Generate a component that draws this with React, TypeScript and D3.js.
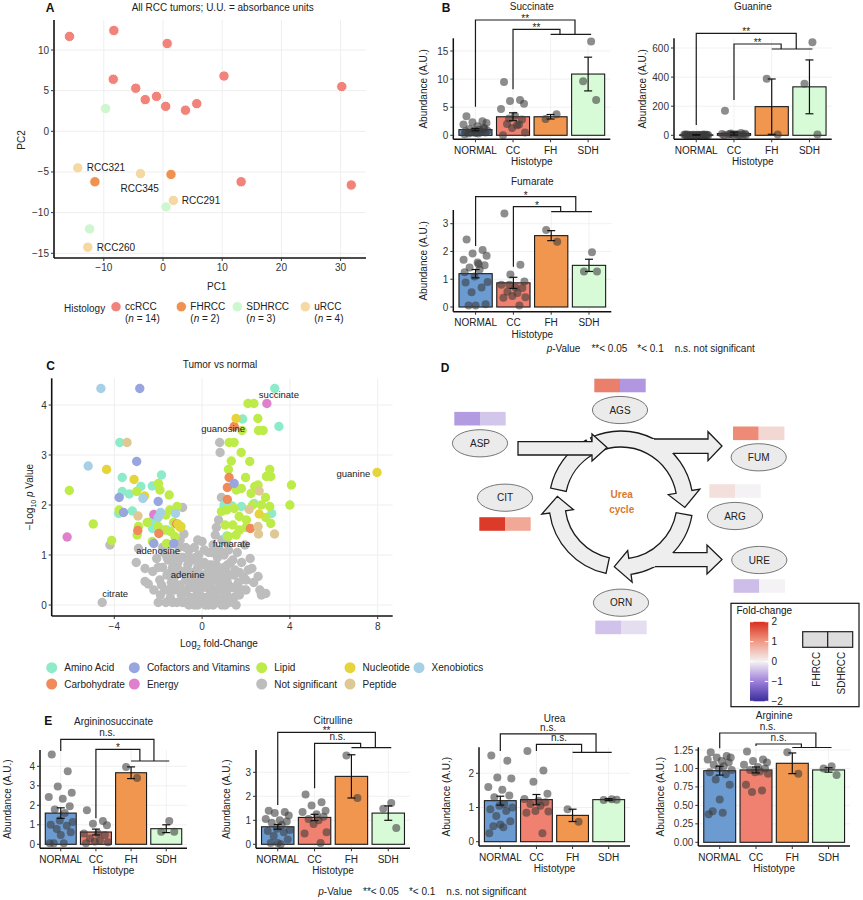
import React from 'react';
import * as d3 from 'd3';

const FONT = '"Liberation Sans", Arial, Helvetica, sans-serif';

// ---------------- Panel A: PCA ----------------
const histologies = ['ccRCC', 'FHRCC', 'SDHRCC', 'uRCC'];
const histologyN = [14, 2, 3, 4];
const histologyColors = ['#F2837A', '#F0924F', '#CFF7CF', '#F5D9A2'];
const ccPC1 = [-15.8, -8.3, 0.7, -8.4, -4.6, -3.0, -1.1, 0.45, 3.8, 5.7, 10.3, 30.2, 13.2, 31.8];
const ccPC2 = [11.67, 12.4, 10.8, 6.4, 5.3, 3.9, 4.3, 3.07, 2.6, 3.4, 6.8, 5.5, -6.2, -6.6];
const fhPC1 = [-11.5, 1.35];
const fhPC2 = [-6.2, -5.3];
const sdhPC1 = [-9.7, 0.5, -12.4];
const sdhPC2 = [2.8, -9.3, -12.0];
const uPC1 = [-14.4, -3.8, 1.75, -12.7];
const uPC2 = [-4.5, -5.2, -8.5, -14.25];
const uLabels = ['RCC321', 'RCC345', 'RCC291', 'RCC260'];
const uLabelNudge = [[9, 0], [-20, 15], [8.5, 0], [9, 0]];
const pcaXTicks = [-10, 0, 10, 20, 30];
const pcaYTicks = [-15, -10, -5, 0, 5, 10];

// ---------------- Bar panels (B, E) ----------------
const CATS = ['NORMAL', 'CC', 'FH', 'SDH'];
const BAR_COLORS = ['#6C9BD2', '#F0806F', '#F0964F', '#D7FAD7'];
const JIT = [-9, 7, -3, 11, -12, 2, 9, -6, 4, -1, 12, -10, 6, -4, 10, 0, -7, 3, -11, 8];
const JIT_FH = [-5, 6];
const JIT_SDH = [3, -5, 8];

const succMeans = [1.0, 3.3, 3.3, 10.9];
const succErrs = [0.2, 0.7, 0.4, 3.0];
const succNormal = [3.4, 2.5, 2.3, 2.2, 1.9, 1.6, 1.3, 1.1, 1.0, 0.9, 0.8, 0.7, 0.6, 0.5, 0.5, 0.4, 0.3, 0.3, 0.2, 1.2];
const succCC = [9.5, 6.3, 6.1, 5.6, 4.7, 3.5, 2.8, 2.0, 1.8, 1.3, 0.5, 0.0, 1.9, 3.0];
const succFH = [2.9, 3.75];
const succSDH = [16.7, 9.6, 6.3];

const guanMeans = [3, 12, 197, 333];
const guanErrs = [2, 10, 190, 185];
const guanNormal = [6, 5, 4, 4, 3, 3, 3, 2, 2, 2, 1, 1, 1, 1, 0, 0, 0, 0, 5, 2];
const guanCC = [168, 15, 12, 10, 9, 8, 6, 5, 4, 3, 2, 1, 0, 7];
const guanFH = [388, 5];
const guanSDH = [640, 355, 5];

const fumMeans = [1.2, 0.87, 2.57, 1.5];
const fumErrs = [0.15, 0.2, 0.18, 0.22];
const fumNormal = [2.43, 2.05, 1.93, 1.85, 1.7, 1.6, 1.5, 1.42, 1.35, 1.1, 0.9, 0.88, 0.7, 0.53, 0.1, 0.05, 0.05, 1.55, 1.25];
const fumCC = [3.37, 1.52, 1.17, 0.92, 0.8, 0.7, 0.68, 0.55, 0.5, 0.4, 0.35, 0.33, 0.05, 0.8];
const fumFH = [2.77, 2.35];
const fumSDH = [1.97, 1.28, 1.28];

const asMeans = [1.6, 0.63, 3.67, 0.8];
const asErrs = [0.27, 0.15, 0.3, 0.2];
const asNormal = [4.6, 3.75, 2.97, 2.65, 2.42, 2.33, 1.95, 1.78, 1.6, 1.22, 1.15, 1.0, 0.95, 0.78, 0.62, 0.48, 0.05, 0.05, 0.05];
const asCC = [1.75, 1.2, 1.05, 0.98, 0.55, 0.55, 0.48, 0.3, 0.2, 0.15, 0.1, 0.05];
const asFH = [3.97, 3.4];
const asSDH = [1.2, 0.65, 0.65];

const citMeans = [0.73, 1.12, 2.83, 1.3];
const citErrs = [0.1, 0.13, 0.9, 0.3];
const citNormal = [1.4, 1.35, 1.3, 1.2, 1.05, 1.0, 0.95, 0.9, 0.8, 0.65, 0.6, 0.55, 0.5, 0.35, 0.2, 0.05, 0.05, 0.0];
const citCC = [2.08, 1.75, 1.62, 1.4, 1.35, 1.25, 1.15, 1.05, 1.0, 0.85, 0.5, 0.45, 0.05];
const citFH = [3.7, 1.93];
const citSDH = [1.72, 1.48, 0.68];

const ureaMeans = [1.2, 1.23, 0.77, 1.23];
const ureaErrs = [0.13, 0.15, 0.18, 0.03];
const ureaNormal = [2.52, 2.37, 1.88, 1.85, 1.6, 1.52, 1.35, 1.3, 1.1, 1.05, 1.0, 0.95, 0.9, 0.75, 0.6, 0.5, 0.45, 0.42, 0.25];
const ureaCC = [2.65, 2.08, 1.75, 1.4, 1.25, 1.2, 1.15, 1.1, 1.05, 0.9, 0.88, 0.85, 0.25];
const ureaFH = [0.95, 0.58];
const ureaSDH = [1.24, 1.22, 1.23];

const argMeans = [0.97, 0.98, 1.07, 0.98];
const argErrs = [0.06, 0.04, 0.14, 0.03];
const argNormal = [1.22, 1.17, 1.15, 1.15, 1.12, 1.1, 1.08, 1.05, 1.03, 1.0, 0.98, 0.95, 0.92, 0.85, 0.78, 0.58, 0.42, 0.4, 0.38];
const argCC = [1.23, 1.12, 1.1, 1.08, 1.05, 1.02, 1.0, 0.98, 0.96, 0.95, 0.93, 0.78, 0.7, 0.68];
const argFH = [1.22, 0.93];
const argSDH = [1.03, 1.0, 0.91];

// ---------------- Panel C: volcano ----------------
const volcanoCategories = ['Amino Acid', 'Carbohydrate', 'Cofactors and Vitamins', 'Energy', 'Lipid', 'Not significant', 'Nucleotide', 'Peptide', 'Xenobiotics'];
const volcanoColors = ['#8EEBC9', '#F08A5B', '#98A5DE', '#E080CC', '#BDEB48', '#BDBDBD', '#E6D43B', '#E0C895', '#A7D0E6'];
const notSignificant = [[-4.55, 0.05], [-4.2, 1.2], [-3.0, 0.85], [-2.9, 1.13], [-2.6, 0.73], [-2.6, 0.47], [-2.45, 0.42], [-2.25, 0.67], [-2.07, 0.93], [-1.93, 0.5], [-1.8, 0.75], [-1.75, 1.05], [-1.7, 0.3], [-1.6, 0.6], [-1.55, 0.9], [-1.5, 1.2], [-1.45, 0.15], [-1.4, 0.45], [-1.35, 0.75], [-1.3, 1.0], [-1.25, 0.3], [-1.2, 0.6], [-1.15, 0.05], [-1.1, 0.85], [-1.05, 1.15], [-1.0, 0.4], [-0.95, 0.2], [-0.9, 0.65], [-0.89, 1.95], [-0.83, 1.42], [-0.85, 0.95], [-0.8, 0.05], [-0.75, 0.5], [-0.7, 0.3], [-0.65, 0.8], [-0.6, 1.1], [-0.55, 0.15], [-0.5, 0.6], [-0.45, 0.35], [-0.4, 0.9], [-0.35, 0.0], [-0.3, 0.5], [-0.25, 0.2], [-0.2, 0.75], [-0.15, 1.0], [-0.1, 0.05], [-0.05, 0.4], [0, 1.27], [0, 0.6], [0.05, 0.15], [0.1, 0.85], [0.15, 0.0], [0.2, 0.35], [0.25, 0.65], [0.3, 1.05], [0.35, 0.1], [0.4, 0.5], [0.45, 0.8], [0.5, 0.0], [0.5, 1.2], [0.55, 0.3], [0.6, 0.6], [0.65, 1.55], [0.7, 0.05], [0.7, 0.95], [0.75, 1.7], [0.8, 3.25], [0.82, 3.05], [0.88, 2.15], [0.8, 0.4], [0.85, 0.7], [0.9, 1.3], [0.95, 0.15], [1.0, 1.0], [1.05, 0.5], [1.1, 0.25], [1.15, 0.8], [1.2, 1.1], [1.25, 0.05], [1.3, 0.6], [1.35, 0.35], [1.4, 0.9], [1.45, 0.15], [1.5, 0.7], [1.6, 1.05], [1.65, 0.45], [1.7, 0.2], [1.8, 0.85], [1.9, 0.55], [1.95, 1.2], [2.0, 0.3], [2.1, 0.7], [2.19, 0.93], [2.27, 0.73], [2.35, 0.45], [2.55, 0.57], [2.63, 0.3], [2.7, 0.2], [2.9, 0.23], [-0.6, 0.0], [0.3, 0.0], [0.9, 0.0], [-1.9, 0.2], [1.1, 1.25], [0.6, 1.4], [-0.2, 1.3], [-1.0, 1.3],
  [-2.2, 0.3], [-2.0, 0.05], [-1.85, 0.4], [-1.65, 0.05], [-1.55, 0.3], [-1.35, 0.05], [-1.3, 0.5], [-1.15, 0.35], [-1.05, 0.7], [-0.95, 0.95], [-0.9, 0.05], [-0.8, 0.25], [-0.75, 1.15], [-0.7, 0.7], [-0.6, 0.45], [-0.55, 0.95], [-0.45, 0.1], [-0.4, 0.65], [-0.35, 1.15], [-0.25, 0.4], [-0.2, 0.0], [-0.1, 0.85], [-0.1, 0.3], [0.0, 0.1], [0.05, 0.45], [0.1, 1.1], [0.2, 0.6], [0.2, 0.15], [0.3, 0.8], [0.4, 0.25], [0.45, 1.05], [0.55, 0.5], [0.6, 0.15], [0.65, 0.8], [0.75, 0.3], [0.8, 1.1], [0.85, 0.55], [0.95, 0.35], [1.0, 0.75], [1.05, 0.0], [1.15, 0.45], [1.2, 0.15], [1.3, 0.85], [1.4, 0.35], [1.45, 0.6], [1.55, 0.0], [1.6, 0.3], [1.7, 0.65], [1.85, 0.3], [2.0, 0.5], [-1.45, 0.65], [-1.6, 0.95], [-1.2, 0.85], [-0.3, 0.95], [0.35, 0.4], [1.1, 0.65], [-2.0, 0.75], [-1.8, 1.15], [0.0, 0.8], [0.5, 0.7]];
const aminoAcid = [[3.31, 4.33], [3.5, 3.57], [-3.75, 3.25], [-3.64, 2.55], [-3.64, 2.27], [-3.32, 2.22], [-2.79, 2.37], [-2.27, 2.38], [-1.85, 2.6], [-3.18, 1.88], [-3.8, 1.83], [-2.31, 1.67], [-2.26, 1.53], [1.85, 3.72], [1.79, 1.97], [2.37, 2.03], [3.17, 1.83], [1.12, 1.38], [1.37, 1.98], [-2.1, 1.7], [-1.6, 1.5], [1.0, 2.0]];
const carbohydrate = [[1.46, 3.57], [1.23, 2.55], [1.15, 2.35], [1.15, 2.11], [2.2, 1.53], [-2.93, 1.49], [-1.97, 1.43], [-1.16, 1.62]];
const cofactors = [[-2.84, 4.33], [-2.98, 2.87], [-3.78, 2.15], [-3.58, 1.85], [-2.0, 2.07], [-2.2, 1.23], [-1.29, 1.23], [1.46, 2.43]];
const energy = [[-6.15, 1.36], [2.95, 4.03], [-2.2, 1.81]];
const lipid = [[-6.05, 2.29], [-4.96, 1.62], [-4.12, 1.29], [2.09, 4.03], [2.36, 4.03], [2.54, 3.73], [1.82, 3.49], [2.57, 3.49], [2.78, 3.49], [1.23, 3.25], [1.46, 3.25], [1.78, 3.05], [1.33, 2.88], [2.17, 2.87], [1.2, 2.71], [3.08, 2.71], [2.93, 2.57], [3.13, 2.57], [1.98, 2.55], [1.79, 2.33], [1.56, 2.3], [2.4, 2.37], [2.55, 2.4], [2.23, 2.23], [4.07, 2.4], [4.0, 2.0], [3.08, 1.97], [2.89, 2.15], [1.12, 1.9], [1.69, 1.77], [2.02, 1.7], [1.7, 1.5], [2.0, 1.55], [1.2, 1.37], [3.13, 1.63], [1.46, 1.93], [0.88, 1.87], [1.05, 1.6], [1.4, 1.6], [1.55, 1.4], [2.3, 2.0], [2.7, 2.0], [2.9, 1.75], [-3.78, 1.9], [-2.96, 1.4], [-2.9, 1.57], [-2.98, 2.27], [-1.99, 2.43], [-1.92, 2.3], [-1.47, 1.9], [-1.65, 1.8], [-1.14, 1.97], [-1.44, 1.47], [-1.24, 1.37], [-1.62, 1.23], [-0.96, 1.57], [-2.27, 1.27], [-2.0, 1.57], [-1.3, 1.65], [-1.7, 1.5], [-2.5, 1.65], [-1.5, 2.2]];
const nucleotide = [[1.55, 3.73], [-4.35, 2.71], [-3.1, 2.51], [-2.62, 2.18], [-1.1, 1.62], [2.6, 1.82], [7.97, 2.65], [-1.0, 1.55]];
const peptide = [[-3.42, 3.25], [2.6, 2.28], [-2.92, 1.78], [2.14, 1.91], [2.55, 1.57], [2.57, 1.42], [3.3, 1.42]];
const xenobiotics = [[-4.61, 4.33], [-5.19, 2.78], [-2.7, 2.13], [-1.89, 1.85], [-1.21, 1.83], [-2.0, 1.75]];
const volcanoLabels = ['succinate', 'guanosine', 'fumarate', 'adenosine', 'adenine', 'citrate', 'guanine'];
const volcanoLabelFc = [3.5, 0.96, 1.34, -2.0, -0.66, -3.96, 7.66];
const volcanoLabelP = [4.2, 3.52, 1.23, 1.09, 0.61, 0.23, 2.63];
const volcanoXTicks = [-4, 0, 4, 8];
const volcanoYTicks = [0, 1, 2, 3, 4];

// ---------------- Panel D: urea cycle ----------------
const metabolites = ['AGS', 'ASP', 'FUM', 'ARG', 'CIT', 'URE', 'ORN'];
const fcFH = [1.25, -0.76, 1.14, 0.21, 1.89, -0.46, -0.42];
const fcSDH = [-0.79, -0.38, 0.31, 0.0, 0.84, 0.0, -0.18];
const legendTicks = [2, 1, 0, -1, -2];

const fcColor = d3.scaleLinear<string>()
  .domain([-2, -1, 0, 1, 2])
  .range(['#3A2D9C', '#9E7FDB', '#F4F2F4', '#F09A85', '#D92F1E']);

// ----------------- Bar panel -----------------
function BarPanel(props: any) {
  const { title, titleY, x0, W, y0, yRef, yRefPix, top, bottom, ticks, fmt, means, errs, pts, br, marks, ylabX } = props;
  const x = d3.scaleBand().domain(CATS).range([x0, x0 + W]).paddingInner(0.12).paddingOuter(0.15);
  const y = d3.scaleLinear().domain([0, yRef]).range([y0, yRefPix]);
  const bw = x.bandwidth();
  const cx = (c: string) => (x(c) as number) + bw / 2;
  const step = x.step();
  const fh = cx('FH');
  const innerEnd = fh + 0.25 * step;
  const outerEnd = fh + 0.65 * step;
  const jits = [JIT, JIT, JIT_FH, JIT_SDH];
  const lbl = (s: string, ly: number) => (s.startsWith('*') ? ly + 1.8 : ly - 3);
  return (
    <g>
      {ticks.map((t: number) => (
        <line key={'gy' + t} x1={x0} x2={x0 + W} y1={y(t)} y2={y(t)} stroke="#EDEDED" strokeWidth={0.8} />
      ))}
      {CATS.map((c) => (
        <line key={'gx' + c} x1={cx(c)} x2={cx(c)} y1={top} y2={bottom} stroke="#EDEDED" strokeWidth={0.8} />
      ))}
      {CATS.map((c, i) => (
        <rect key={'b' + c} x={x(c)} y={y(means[i])} width={bw} height={y(0) - y(means[i])}
          fill={BAR_COLORS[i]} stroke="#1a1a1a" strokeWidth={1.1} />
      ))}
      {CATS.map((c, i) => pts[i].map((v: number, j: number) => (
        <circle key={'p' + c + j} cx={cx(c) + jits[i][j % jits[i].length]} cy={y(v)} r={4}
          fill="#3a3a3a" fillOpacity={0.58} />
      )))}
      {CATS.map((c, i) => {
        const a = y(means[i] + errs[i]);
        const b = y(Math.max(0, means[i] - errs[i]));
        return (
          <g key={'e' + c} stroke="#111" strokeWidth={1.2}>
            <line x1={cx(c)} x2={cx(c)} y1={a} y2={b} />
            <line x1={cx(c) - 4} x2={cx(c) + 4} y1={a} y2={a} />
            <line x1={cx(c) - 4} x2={cx(c) + 4} y1={b} y2={b} />
          </g>
        );
      })}
      <line x1={x0} x2={x0} y1={top} y2={bottom} stroke="#111" strokeWidth={1.5} />
      <line x1={x0} x2={x0 + W} y1={bottom} y2={bottom} stroke="#111" strokeWidth={1.5} />
      {ticks.map((t: number) => (
        <g key={'yt' + t}>
          <line x1={x0 - 3} x2={x0} y1={y(t)} y2={y(t)} stroke="#333" />
          <text x={x0 - 5} y={y(t) + 3.5} fontSize={10} textAnchor="end" fill="#333">{fmt(t)}</text>
        </g>
      ))}
      {CATS.map((c) => (
        <g key={'xt' + c}>
          <line x1={cx(c)} x2={cx(c)} y1={bottom} y2={bottom + 3} stroke="#333" />
          <text x={cx(c)} y={bottom + 14.5} fontSize={10} textAnchor="middle" fill="#222">{c}</text>
        </g>
      ))}
      <text x={x0 + W / 2} y={bottom + 26} fontSize={10} textAnchor="middle" fill="#222">Histotype</text>
      <text transform={`translate(${ylabX + 3.5},${(top + bottom) / 2}) rotate(-90)`} fontSize={10} textAnchor="middle" fill="#222">Abundance (A.U.)</text>
      <text x={x0 + W / 2} y={titleY} fontSize={10} textAnchor="middle" fill="#222">{title}</text>
      <g stroke="#1a1a1a" strokeWidth={1.2} fill="none">
        <path d={`M${cx('NORMAL')},${br[0]} V${br[1]} H${outerEnd} V${br[4]}`} />
        <path d={`M${cx('CC')},${br[2]} V${br[3]} H${innerEnd} V${br[4]}`} />
        <path d={`M${fh},${br[4]} H${cx('SDH') + 3}`} />
      </g>
      <text x={(cx('NORMAL') + outerEnd) / 2} y={lbl(marks[0], br[1])} fontSize={10} textAnchor="middle" fill="#222">{marks[0]}</text>
      <text x={(cx('CC') + innerEnd) / 2} y={lbl(marks[1], br[3])} fontSize={10} textAnchor="middle" fill="#222">{marks[1]}</text>
    </g>
  );
}

function PValueLegend({ x, y }: any) {
  return (
    <text x={x} y={y} fontSize={10} fill="#222">
      <tspan fontStyle="italic">p</tspan>
      <tspan>-Value</tspan>
      <tspan dx={11}>**&lt; 0.05</tspan>
      <tspan dx={10}>*&lt; 0.1</tspan>
      <tspan dx={11}>n.s. not significant</tspan>
    </text>
  );
}

function PanelA() {
  const x = d3.scaleLinear().domain([-10, 30]).range([103.8, 340.6]);
  const y = d3.scaleLinear().domain([-15, 10]).range([253.3, 50]);
  const L = 54, R = 366, T = 20, B = 258;
  const groups = [
    { xs: ccPC1, ys: ccPC2, c: histologyColors[0] },
    { xs: fhPC1, ys: fhPC2, c: histologyColors[1] },
    { xs: sdhPC1, ys: sdhPC2, c: histologyColors[2] },
    { xs: uPC1, ys: uPC2, c: histologyColors[3] },
  ];
  const legX = [116, 181.3, 237.3, 305.3];
  return (
    <g>
      {pcaXTicks.map((t) => <line key={'gx' + t} x1={x(t)} x2={x(t)} y1={T} y2={B} stroke="#EEEEEE" />)}
      {pcaYTicks.map((t) => <line key={'gy' + t} x1={L} x2={R} y1={y(t)} y2={y(t)} stroke="#EEEEEE" />)}
      {groups.map((g, gi) => g.xs.map((v, i) => (
        <circle key={gi + '-' + i} cx={x(v)} cy={y(g.ys[i])} r={5.2} fill={g.c} stroke="#fff" strokeWidth={1} />
      )))}
      {uLabels.map((l, i) => (
        <text key={l} x={x(uPC1[i]) + uLabelNudge[i][0]} y={y(uPC2[i]) + uLabelNudge[i][1] + 3.5} fontSize={10} fill="#222">{l}</text>
      ))}
      <line x1={L} x2={L} y1={T} y2={B} stroke="#111" strokeWidth={1.6} />
      <line x1={L} x2={R} y1={B} y2={B} stroke="#111" strokeWidth={1.6} />
      {pcaYTicks.map((t) => (
        <g key={'yt' + t}>
          <line x1={L - 3} x2={L} y1={y(t)} y2={y(t)} stroke="#333" />
          <text x={L - 5} y={y(t) + 3.5} fontSize={10} textAnchor="end" fill="#333">{t < 0 ? '\u2212' + Math.abs(t) : t}</text>
        </g>
      ))}
      {pcaXTicks.map((t) => (
        <g key={'xt' + t}>
          <line x1={x(t)} x2={x(t)} y1={B} y2={B + 3} stroke="#333" />
          <text x={x(t)} y={B + 13} fontSize={10} textAnchor="middle" fill="#333">{t < 0 ? '\u2212' + Math.abs(t) : t}</text>
        </g>
      ))}
      <text x={216.7} y={289.5} fontSize={10} textAnchor="middle" fill="#222">PC1</text>
      <text transform="translate(25,140) rotate(-90)" fontSize={10} textAnchor="middle" fill="#222">PC2</text>
      <text x={222.7} y={11} fontSize={10} textAnchor="middle" fill="#222">All RCC tumors; U.U. = absorbance units</text>
      <text x={50} y={12} fontSize={12} fontWeight="bold" textAnchor="middle" fill="#111">A</text>
      <text x={64} y={311.5} fontSize={10} fill="#222">Histology</text>
      {histologies.map((h, i) => (
        <g key={h}>
          <circle cx={legX[i]} cy={306.7} r={5.2} fill={histologyColors[i]} stroke="#fff" strokeWidth={1} />
          <text x={legX[i] + 9} y={310.2} fontSize={10} fill="#222">{h}</text>
          <text x={legX[i] + 9} y={322} fontSize={10} fill="#222">(<tspan fontStyle="italic">n</tspan> = {histologyN[i]})</text>
        </g>
      ))}
    </g>
  );
}

function PanelB() {
  return (
    <g>
      <text x={446} y={12} fontSize={12} fontWeight="bold" textAnchor="middle" fill="#111">B</text>
      <BarPanel title="Succinate" titleY={9.5} x0={453.3} W={157} y0={135.3} yRef={15} yRefPix={51} top={38.3} bottom={139.3}
        ticks={[0, 5, 10, 15]} fmt={(t: number) => String(t)} means={succMeans} errs={succErrs}
        pts={[succNormal, succCC, succFH, succSDH]} br={[106.7, 20, 89.3, 29.3, 34.3]} marks={['**', '**']} ylabX={423.3} />
      <BarPanel title="Guanine" titleY={10} x0={674} W={157.7} y0={135.3} yRef={600} yRefPix={48} top={38.3} bottom={139.3}
        ticks={[0, 200, 400, 600]} fmt={(t: number) => String(t)} means={guanMeans} errs={guanErrs}
        pts={[guanNormal, guanCC, guanFH, guanSDH]} br={[125, 33.3, 100, 44, 49]} marks={['**', '**']} ylabX={642.7} />
      <BarPanel title="Fumarate" titleY={184.5} x0={453.3} W={158} y0={307} yRef={3} yRefPix={223.7} top={210} bottom={311.7}
        ticks={[0, 1, 2, 3]} fmt={(t: number) => String(t)} means={fumMeans} errs={fumErrs}
        pts={[fumNormal, fumCC, fumFH, fumSDH]} br={[246, 196.7, 266.7, 206.7, 211.7]} marks={['*', '*']} ylabX={423.3} />
      <PValueLegend x={546.7} y={352} />
    </g>
  );
}

function PanelC() {
  const x = d3.scaleLinear().domain([-4, 8]).range([114.3, 377.7]);
  const y = d3.scaleLinear().domain([0, 4]).range([605, 405]);
  const L = 51.7, R = 392.7, T = 378.3, B = 616;
  const series = [
    { d: notSignificant, c: volcanoColors[5] },
    { d: aminoAcid, c: volcanoColors[0] },
    { d: lipid, c: volcanoColors[4] },
    { d: carbohydrate, c: volcanoColors[1] },
    { d: cofactors, c: volcanoColors[2] },
    { d: energy, c: volcanoColors[3] },
    { d: nucleotide, c: volcanoColors[6] },
    { d: peptide, c: volcanoColors[7] },
    { d: xenobiotics, c: volcanoColors[8] },
  ];
  const legendOrder = [
    ['Amino Acid', 51.7, 667.7], ['Cofactors and Vitamins', 134.3, 667.7], ['Lipid', 261.7, 667.7], ['Nucleotide', 350, 667.7], ['Xenobiotics', 419, 667.7],
    ['Carbohydrate', 51.7, 684], ['Energy', 134.3, 684], ['Not significant', 261.7, 684], ['Peptide', 350, 684],
  ] as [string, number, number][];
  return (
    <g>
      {volcanoXTicks.map((t) => <line key={'gx' + t} x1={x(t)} x2={x(t)} y1={T} y2={B} stroke="#EEEEEE" />)}
      {volcanoYTicks.map((t) => <line key={'gy' + t} x1={L} x2={R} y1={y(t)} y2={y(t)} stroke="#EEEEEE" />)}
      {series.map((s, si) => s.d.map((p, i) => (
        <circle key={si + '-' + i} cx={x(p[0])} cy={y(p[1])} r={4.7} fill={s.c} />
      )))}
      {volcanoLabels.map((l, i) => (
        <text key={l} x={x(volcanoLabelFc[i])} y={y(volcanoLabelP[i]) + 3.3} fontSize={9.5}
          textAnchor={l === 'guanine' ? 'end' : 'middle'} fill="#222">{l}</text>
      ))}
      <line x1={L} x2={L} y1={T} y2={B} stroke="#111" strokeWidth={1.6} />
      <line x1={L} x2={R} y1={B} y2={B} stroke="#111" strokeWidth={1.6} />
      {volcanoYTicks.map((t) => (
        <g key={'yt' + t}>
          <line x1={L - 3} x2={L} y1={y(t)} y2={y(t)} stroke="#333" />
          <text x={L - 5} y={y(t) + 3.5} fontSize={10} textAnchor="end" fill="#333">{t}</text>
        </g>
      ))}
      {volcanoXTicks.map((t) => (
        <g key={'xt' + t}>
          <line x1={x(t)} x2={x(t)} y1={B} y2={B + 3} stroke="#333" />
          <text x={x(t)} y={B + 13.5} fontSize={10} textAnchor="middle" fill="#333">{t < 0 ? '\u2212' + Math.abs(t) : t}</text>
        </g>
      ))}
      <text x={219} y={647} fontSize={10} textAnchor="middle" fill="#222">Log<tspan fontSize={7} dy={3}>2</tspan><tspan dy={-3}> fold-Change</tspan></text>
      <text transform="translate(33,497) rotate(-90)" fontSize={10} textAnchor="middle" fill="#222">{'\u2212'}Log<tspan fontSize={7} dy={3}>10</tspan><tspan dy={-3}> </tspan><tspan fontStyle="italic">p</tspan> Value</text>
      <text x={220} y={368} fontSize={10} textAnchor="middle" fill="#222">Tumor vs normal</text>
      <text x={50.7} y={370} fontSize={12} fontWeight="bold" textAnchor="middle" fill="#111">C</text>
      {legendOrder.map(([name, lx, ly]) => (
        <g key={name}>
          <circle cx={lx} cy={ly} r={5.5} fill={volcanoColors[volcanoCategories.indexOf(name)]} />
          <text x={lx + 12.6} y={ly + 3.6} fontSize={10} fill="#222">{name}</text>
        </g>
      ))}
    </g>
  );
}

function arcArrow(cx: number, cy: number, R: number, r: number, a0: number, a1: number, head: number) {
  const P = (a: number, rad: number) => {
    const t = (a * Math.PI) / 180;
    return [cx + rad * Math.sin(t), cy - rad * Math.cos(t)];
  };
  const o0 = P(a0, R), o1 = P(a1, R), i1 = P(a1, r), i0 = P(a0, r);
  const large = a1 - a0 > 180 ? 1 : 0;
  let d = `M${o0[0]},${o0[1]} A${R},${R} 0 ${large} 1 ${o1[0]},${o1[1]}`;
  if (head > 0) {
    const h1 = P(a1, R + 8), tip = P(a1 + head, (R + r) / 2), h2 = P(a1, r - 8);
    d += ` L${h1[0]},${h1[1]} L${tip[0]},${tip[1]} L${h2[0]},${h2[1]}`;
  }
  d += ` L${i1[0]},${i1[1]} A${r},${r} 0 ${large} 0 ${i0[0]},${i0[1]} Z`;
  return d;
}

function PanelD() {
  const cx = 621, cy = 503, R = 72, r = 56;
  const nodeX = [620, 480, 758.7, 735, 505, 759.3, 621];
  const nodeY = [410, 443.3, 457.3, 516, 497.7, 560, 602.7];
  const tileDy = [-24.5, -24.6, -24, -25, 26.3, 26, 24.7];
  const tw = 25.7, th = 13.6;
  const legY = d3.scaleLinear().domain([-2, 2]).range([701.3, 621.8]);
  return (
    <g>
      <defs>
        <linearGradient id="fcgrad" x1="0" y1="0" x2="0" y2="1">
          {legendTicks.map((t, i) => (
            <stop key={t} offset={`${i * 25}%`} stopColor={fcColor(t)} />
          ))}
        </linearGradient>
      </defs>
      <text x={445} y={371.5} fontSize={12} fontWeight="bold" textAnchor="middle" fill="#111">D</text>
      <g fill="#EEEEEE" stroke="#1a1a1a" strokeWidth={1.3} strokeLinejoin="miter">
        <path d={arcArrow(cx, cy, R, r, -25, 80, 14)} />
        <path d={arcArrow(cx, cy, R, r, 100, 172, 14)} />
        <path d={arcArrow(cx, cy, R, r, 192, 262, 14)} />
        <path d={arcArrow(cx, cy, R, r, 282, 331, 0)} />
      </g>
      <path d="M650,439 H708 V431.7 L722,446 L708,460.7 V453.3 H650 Z" fill="#EEEEEE" />
      <path d="M654,439 H708 V431.7 L722,446 L708,460.7 V453.3 H673" fill="none" stroke="#1a1a1a" strokeWidth={1.3} />
      <path d="M650,552.7 H707 V545 L722,559.5 L707,574 V566.7 H650 Z" fill="#EEEEEE" />
      <path d="M673,552.7 H707 V545 L722,559.5 L707,574 V566.7 H655" fill="none" stroke="#1a1a1a" strokeWidth={1.3} />
      <path d="M518,441.7 H592 V434 L607,447.5 L592,461 V455 H518 Z" fill="#EEEEEE" stroke="#1a1a1a" strokeWidth={1.3} />
      <text x={621.7} y={497.8} fontSize={10} fontWeight="bold" textAnchor="middle" fill="#D9782D">Urea</text>
      <text x={621.7} y={512.5} fontSize={10} fontWeight="bold" textAnchor="middle" fill="#D9782D">cycle</text>
      {metabolites.map((m, i) => (
        <g key={m}>
          <ellipse cx={nodeX[i]} cy={nodeY[i]} rx={27.6} ry={13.6} fill="#EBEBEB" stroke="#555" strokeWidth={0.8} />
          <text x={nodeX[i]} y={nodeY[i] + 3.6} fontSize={10} textAnchor="middle" fill="#222">{m}</text>
          <rect x={nodeX[i] - tw} y={nodeY[i] + tileDy[i] - th / 2} width={tw} height={th} fill={fcColor(fcFH[i])} />
          <rect x={nodeX[i]} y={nodeY[i] + tileDy[i] - th / 2} width={tw} height={th} fill={fcColor(fcSDH[i])} />
        </g>
      ))}
      <rect x={731} y={603.3} width={128} height={103.4} fill="#fff" stroke="#111" strokeWidth={1.2} />
      <text x={736.5} y={614.3} fontSize={10} fill="#111">Fold-change</text>
      <rect x={750} y={legY(2)} width={18.3} height={legY(-2) - legY(2)} fill="url(#fcgrad)" />
      {legendTicks.map((t) => (
        <g key={t}>
          <line x1={750} x2={753.5} y1={legY(t)} y2={legY(t)} stroke="#fff" strokeWidth={1} />
          <line x1={764.8} x2={768.3} y1={legY(t)} y2={legY(t)} stroke="#fff" strokeWidth={1} />
          <text x={771.5} y={legY(t) + 3.5} fontSize={10} fill="#222">{t < 0 ? '\u2212' + Math.abs(t) : t}</text>
        </g>
      ))}
      <rect x={802.7} y={631.7} width={25} height={15.6} fill="#DDDDDD" stroke="#222" strokeWidth={1.2} />
      <rect x={827.7} y={631.7} width={25} height={15.6} fill="#DDDDDD" stroke="#222" strokeWidth={1.2} />
      <text transform="translate(820.2,651.7) rotate(-90)" fontSize={10} textAnchor="end" fill="#222">FHRCC</text>
      <text transform="translate(845.2,651.7) rotate(-90)" fontSize={10} textAnchor="end" fill="#222">SDHRCC</text>
    </g>
  );
}

function PanelE() {
  return (
    <g>
      <text x={48.3} y={725} fontSize={12} fontWeight="bold" textAnchor="middle" fill="#111">E</text>
      <BarPanel title="Argininosuccinate" titleY={724.5} x0={40} W={147} y0={844.3} yRef={4} yRefPix={766.3} top={750} bottom={848.3}
        ticks={[0, 1, 2, 3, 4]} fmt={(t: number) => String(t)} means={asMeans} errs={asErrs}
        pts={[asNormal, asCC, asFH, asSDH]} br={[751, 739.3, 818.3, 749.3, 761]} marks={['n.s.', '*']} ylabX={7.3} />
      <BarPanel title="Citrulline" titleY={724.3} x0={256} W={154} y0={844.3} yRef={3} yRefPix={772.3} top={750} bottom={848.3}
        ticks={[0, 1, 2, 3]} fmt={(t: number) => String(t)} means={citMeans} errs={citErrs}
        pts={[citNormal, citCC, citFH, citSDH]} br={[805, 732.3, 788.3, 743.3, 747.7]} marks={['**', 'n.s.']} ylabX={226.7} />
      <BarPanel title="Urea" titleY={721.5} x0={479} W={151} y0={841.7} yRef={2} yRefPix={773.3} top={747.3} bottom={846}
        ticks={[0, 1, 2]} fmt={(t: number) => String(t)} means={ureaMeans} errs={ureaErrs}
        pts={[ureaNormal, ureaCC, ureaFH, ureaSDH]} br={[751, 733.8, 751, 744.3, 752.3]} marks={['n.s.', 'n.s.']} ylabX={446.7} />
      <BarPanel title="Arginine" titleY={718.5} x0={698.3} W={151.7} y0={842.3} yRef={1.25} yRefPix={750} top={747.3} bottom={846}
        ticks={[0, 0.25, 0.5, 0.75, 1, 1.25]} fmt={d3.format('.2f')} means={argMeans} errs={argErrs}
        pts={[argNormal, argCC, argFH, argSDH]} br={[748.3, 733, 746, 744, 747.5]} marks={['n.s.', 'n.s.']} ylabX={660} />
      <PValueLegend x={318.3} y={895} />
    </g>
  );
}

export default function App() {
  return (
    <svg width={863} height={900} style={{ position: 'absolute', left: 0, top: 0, fontFamily: FONT }}>
      <rect width={863} height={900} fill="#fff" />
      <PanelA />
      <PanelB />
      <PanelC />
      <PanelD />
      <PanelE />
    </svg>
  );
}
